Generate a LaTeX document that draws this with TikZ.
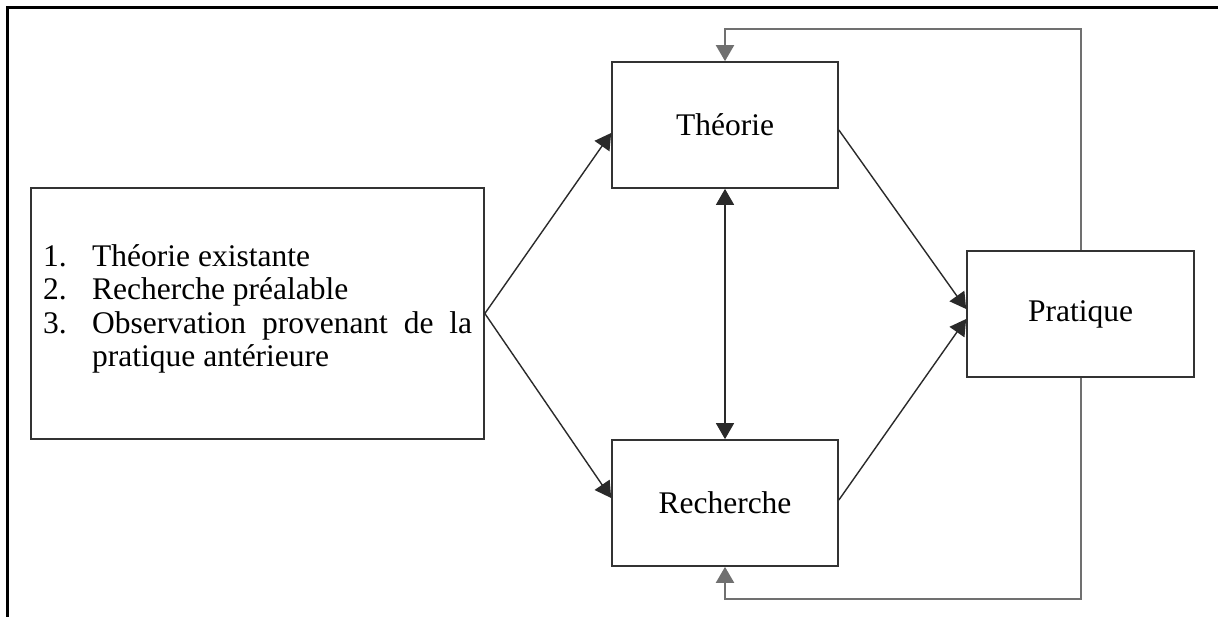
\documentclass[tikz,border=0pt]{standalone}
\usepackage{fontspec}
\setmainfont{Liberation Serif}
\usetikzlibrary{arrows.meta}
\definecolor{boxline}{HTML}{333333}
\definecolor{connline}{HTML}{2A2A2A}
\definecolor{fbline}{HTML}{707070}
\tikzset{
  boxnode/.style={draw=boxline, line width=1.7pt, minimum width=226pt, minimum height=126pt,
    inner sep=0pt, font=\fontsize{31.5}{34}\selectfont, fill=white},
  tip/.style={-{Triangle[length=16pt,width=18pt]}},
  conn/.style={draw=connline, line width=1.4pt, tip},
  biconn/.style={draw=connline, line width=1.4pt, {Triangle[length=16pt,width=18pt]}-{Triangle[length=16pt,width=18pt]}},
  fb/.style={draw=fbline, line width=2pt, tip},
  frame/.style={draw=black, line width=3pt}
}
\begin{document}
\begin{tikzpicture}[x=1pt,y=-1pt]
\useasboundingbox (0,0) rectangle (1218,616);
\fill[white] (0,0) rectangle (1218,616);
% outer frame (only top and left edges visible)
\coordinate (ftr) at (1222,7);
\coordinate (ftl) at (7,7);
\coordinate (fbl) at (7,620);
\draw[frame] (ftr) -- (ftl) -- (fbl);

% boxes
\node[boxnode, minimum width=453pt, minimum height=251pt] (src) at (257.5,313.5) {};
\node[anchor=base west, inner sep=0pt, font=\fontsize{31.5}{33.5}\selectfont] (srctext) at (43,266) {%
\begin{minipage}[t]{429pt}\fontsize{31.5}{33.5}\selectfont\raggedright
\makebox[49pt][l]{1.}Théorie existante\par
\makebox[49pt][l]{2.}Recherche préalable\par
\rightskip=0pt plus 0pt\parfillskip=0pt plus 1fil
\hangindent=49pt\hangafter=1\makebox[49pt][l]{3.}Observation provenant de la pratique antérieure\par
\end{minipage}};
\node[boxnode] (theo) at (725,125) {Théorie};
\node[boxnode] (rech) at (725,503) {Recherche};
\node[boxnode, minimum width=227pt] (prat) at (1080.5,314) {Pratique};

% connectors
\draw[conn] (src.east) -- ([yshift=-8pt]theo.west);
\draw[conn] (src.east) -- ([yshift=5pt]rech.west);
\draw[conn] ([yshift=-5pt]theo.east) -- ([yshift=5pt]prat.west);
\draw[conn] ([yshift=3pt]rech.east) -- ([yshift=-5pt]prat.west);
\draw[biconn] (theo.south) -- (rech.north);

% feedback loops
\draw[fb] (prat.north) |- ([yshift=32pt]theo.north) -- (theo.north);
\draw[fb] (prat.south) |- ([yshift=-32pt]rech.south) -- (rech.south);
\end{tikzpicture}
\end{document}
